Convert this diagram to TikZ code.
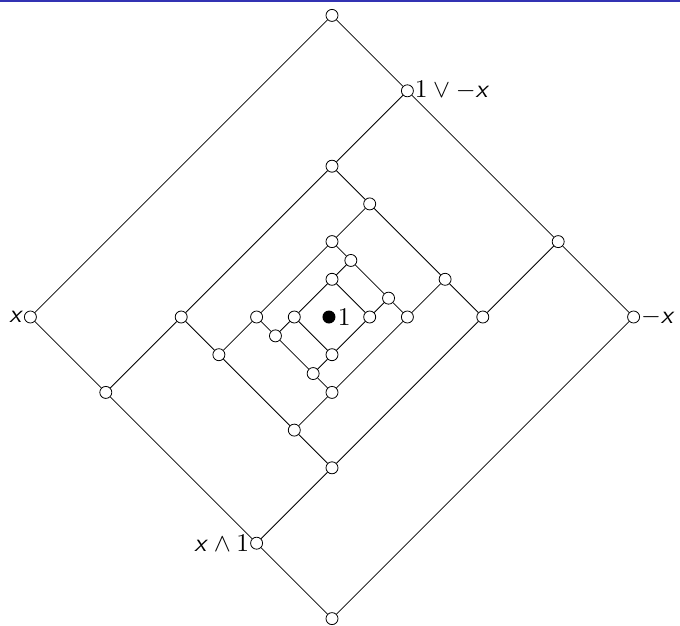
\documentclass[tikz,border=0pt]{standalone}
\newcommand\vx{\textsf{\textit{x}}}
\newcommand\lbl[1]{\scalebox{2.55}{#1}}
\tikzset{
  v/.style={circle,draw,fill=white,inner sep=0pt,minimum size=12pt,line width=0.8pt},
  vf/.style={circle,fill=black,inner sep=0pt,minimum size=13pt},
  lab/.style={inner sep=0.8pt},
  edge/.style={line width=0.8pt}
}
\begin{document}
\begin{tikzpicture}[x=37.7pt,y=37.7pt]
\useasboundingbox (-332pt,-308pt) rectangle (348pt,317pt);
\fill[color={rgb,255:red,51;green,51;blue,179}] (-332pt,315.5pt) rectangle (348pt,317pt);
% outer ring
\node[v] (t) at (0,8) {};
\node[v,label={[lab]right:\lbl{$1\vee-\vx$}}] (a) at (2,6) {};
\node[v,label={[lab]left:\lbl{\vx}}] (l) at (-8,0) {};
\node[v,label={[lab]right:\lbl{$-\vx$}}] (r) at (8,0) {};
\node[v] (b) at (0,-8) {};
\node[v,label={[lab]left:\lbl{$\vx\wedge 1$}}] (c) at (-2,-6) {};
\node[v] (d) at (6,2) {};
\node[v] (e) at (-6,-2) {};
% ring 2
\node[v] (f) at (0,4) {};
\node[v] (g) at (-4,0) {};
\node[v] (h) at (-3,-1) {};
\node[v] (i) at (-1,-3) {};
\node[v] (j) at (0,-4) {};
\node[v] (k) at (4,0) {};
\node[v] (m) at (3,1) {};
\node[v] (n) at (1,3) {};
% ring 3
\node[v] (p) at (0,2) {};
\node[v] (q) at (-2,0) {};
\node[v] (s) at (-1.5,-0.5) {};
\node[v] (w) at (-0.5,-1.5) {};
\node[v] (y) at (0,-2) {};
\node[v] (z) at (2,0) {};
\node[v] (o) at (1.5,0.5) {};
\node[v] (u) at (0.5,1.5) {};
% ring 4
\node[v] (A) at (0,1) {};
\node[v] (B) at (-1,0) {};
\node[v] (C) at (0,-1) {};
\node[v] (D) at (1,0) {};
% centre
\node[vf,label={[inner sep=2pt]right:\lbl{$1$}}] (Z) at (-0.08,0) {};
% edges
\draw[edge] (t)--(l) (l)--(e) (e)--(c) (c)--(b) (b)--(r) (r)--(d) (d)--(a) (a)--(t);
\draw[edge] (a)--(f) (d)--(k) (c)--(j) (e)--(g);
\draw[edge] (f)--(g) (g)--(h) (h)--(i) (i)--(j) (j)--(k) (k)--(m) (m)--(n) (n)--(f);
\draw[edge] (n)--(p) (m)--(z) (h)--(q) (i)--(y);
\draw[edge] (p)--(q) (q)--(s) (s)--(w) (w)--(y) (y)--(z) (z)--(o) (o)--(u) (u)--(p);
\draw[edge] (u)--(A) (o)--(D) (s)--(B) (w)--(C);
\draw[edge] (A)--(B) (B)--(C) (C)--(D) (D)--(A);
\end{tikzpicture}
\end{document}
